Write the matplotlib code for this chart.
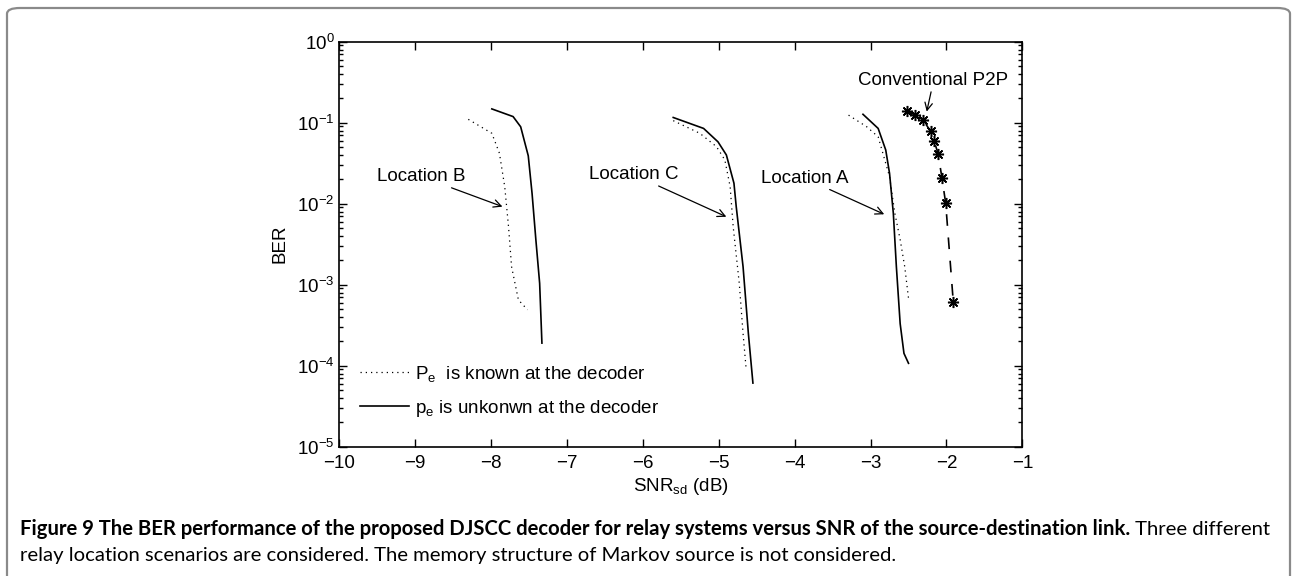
import numpy as np
import matplotlib
matplotlib.use("Agg")
import matplotlib.pyplot as plt
from matplotlib.patches import FancyBboxPatch
from matplotlib.ticker import LogLocator, NullFormatter

plt.rcParams['font.family'] = ['Liberation Sans', 'DejaVu Sans']
plt.rcParams['mathtext.default'] = 'regular'

# SNR (dB) and BER
b_known_x = [-8.30, -7.99, -7.89, -7.82, -7.77, -7.73, -7.64, -7.52]
b_known_y = [0.110, 0.074, 0.042, 0.0162, 0.0052, 0.00167, 0.00065, 0.00049]
b_unknown_x = [-7.99, -7.71, -7.61, -7.51, -7.46, -7.41, -7.36, -7.33]
b_unknown_y = [0.148, 0.119, 0.089, 0.039, 0.0134, 0.0036, 0.00104, 0.00019]

c_known_x = [-5.60, -5.25, -5.03, -4.92, -4.85, -4.81, -4.73, -4.68, -4.64]
c_known_y = [0.106, 0.074, 0.0506, 0.0347, 0.0162, 0.0052, 0.00104, 0.00025, 0.000093]
c_unknown_x = [-5.60, -5.20, -5.01, -4.90, -4.80, -4.77, -4.68, -4.61, -4.55]
c_unknown_y = [0.116, 0.085, 0.058, 0.040, 0.0179, 0.0092, 0.00167, 0.00025, 0.000061]

a_known_x = [-3.29, -3.05, -2.90, -2.75, -2.68, -2.61, -2.55, -2.50]
a_known_y = [0.124, 0.089, 0.067, 0.0216, 0.0076, 0.0036, 0.00167, 0.00068]
a_unknown_x = [-3.10, -2.90, -2.80, -2.75, -2.70, -2.66, -2.61, -2.56, -2.50]
a_unknown_y = [0.127, 0.085, 0.046, 0.0237, 0.0076, 0.00167, 0.00033, 0.000142, 0.000107]

p2p_x = [-2.52, -2.42, -2.31, -2.21, -2.16, -2.11, -2.06, -2.01, -1.91]
p2p_y = [0.139, 0.125, 0.108, 0.079, 0.059, 0.041, 0.021, 0.0101, 0.00061]

caption_bold = ('Figure 9 The BER performance of the proposed DJSCC decoder for relay systems '
                'versus SNR of the source-destination link.')
caption_rest = ' Three different'
caption_line2 = ('relay location scenarios are considered. The memory structure of Markov source '
                 'is not considered.')

fig = plt.figure(figsize=(12.92, 5.76), dpi=100)

# rounded frame round the figure and caption
frame = FancyBboxPatch((7 / 1292, -0.05), 1283 / 1292, 1.05 - 8 / 576,
                       boxstyle="round,pad=0,rounding_size=0.01",
                       transform=fig.transFigure, fill=False,
                       edgecolor='#8a8a8a', lw=1.6)
fig.patches.append(frame)

ax = fig.add_axes([0.2626, 0.2245, 0.5287, 0.7031])

dot = (0, (1, 3.2))
ax.plot(b_known_x, b_known_y, color='k', lw=0.9, linestyle=dot,
        label=r'P$_{e}$  is known at the decoder')
ax.plot(b_unknown_x, b_unknown_y, color='k', lw=1.2,
        label=r'p$_{e}$ is unkonwn at the decoder')
ax.plot(c_known_x, c_known_y, color='k', lw=0.9, linestyle=dot)
ax.plot(c_unknown_x, c_unknown_y, color='k', lw=1.2)
ax.plot(a_known_x, a_known_y, color='k', lw=0.9, linestyle=dot)
ax.plot(a_unknown_x, a_unknown_y, color='k', lw=1.2)
ax.plot(p2p_x, p2p_y, color='k', lw=1.2, linestyle=(0, (7, 7)),
        marker=(8, 2, 0), markersize=8, markeredgewidth=1.1)

ax.set_yscale('log')
ax.set_xlim(-10, -1)
ax.set_ylim(1e-5, 1)
ax.set_xticks(np.arange(-10, 0))
ax.yaxis.set_major_locator(LogLocator(base=10, numticks=10))
ax.yaxis.set_minor_locator(LogLocator(base=10, subs=np.arange(2, 10), numticks=10))
ax.yaxis.set_minor_formatter(NullFormatter())
ax.tick_params(which='both', direction='in', top=True, right=True,
               labelsize=13.5, width=1.0)
ax.tick_params(which='major', length=6)
ax.tick_params(which='minor', length=3)
ax.tick_params(axis='x', pad=6)
for s in ax.spines.values():
    s.set_linewidth(1.2)

ax.set_xlabel(r'SNR$_{sd}$ (dB)', fontsize=13.5, labelpad=3)
ax.set_ylabel('BER', fontsize=13.5, labelpad=6)

arrow = dict(arrowstyle='->', color='k', lw=0.9, shrinkA=0, shrinkB=0)
ax.annotate('Location B', xy=(-7.85, 0.0092), xytext=(-8.34, 0.017),
            fontsize=13.5, ha='right', va='bottom', arrowprops=arrow)
ax.annotate('Location C', xy=(-4.90, 0.0069), xytext=(-5.53, 0.0179),
            fontsize=13.5, ha='right', va='bottom', arrowprops=arrow)
ax.annotate('Location A', xy=(-2.82, 0.0074), xytext=(-3.29, 0.0162),
            fontsize=13.5, ha='right', va='bottom', arrowprops=arrow)
ax.annotate('Conventional P2P', xy=(-2.26, 0.137), xytext=(-2.17, 0.26),
            fontsize=13.5, ha='center', va='bottom', arrowprops=arrow)

leg = ax.legend(loc='lower left', bbox_to_anchor=(0.02, 0.05), frameon=False,
                fontsize=13.5, handlelength=2.6, handletextpad=0.3,
                labelspacing=0.75, borderaxespad=0)

# caption: bold lead-in followed by regular text, sized to span the box
cap_font = ['Lato', 'DejaVu Sans']
cap_size = 12.0
y1 = 1 - 535 / 576
y2 = 1 - 561 / 576
bold = fig.text(20 / 1292, y1, caption_bold, fontsize=cap_size,
                fontweight='bold', family=cap_font, va='baseline', ha='left')
rest = fig.text(0.5, y1, caption_rest, fontsize=cap_size,
                family=cap_font, va='baseline', ha='left')
line2 = fig.text(20 / 1292, y2, caption_line2, fontsize=cap_size,
                 family=cap_font, va='baseline', ha='left')

r = fig.canvas.get_renderer()
w = bold.get_window_extent(r).width + rest.get_window_extent(r).width
cap_size = cap_size * 1248 / w
for t in (bold, rest, line2):
    t.set_fontsize(cap_size)
x_end = bold.get_window_extent(r).x1 / fig.bbox.width
rest.set_x(x_end)

fig.savefig('out.png', dpi=100)
